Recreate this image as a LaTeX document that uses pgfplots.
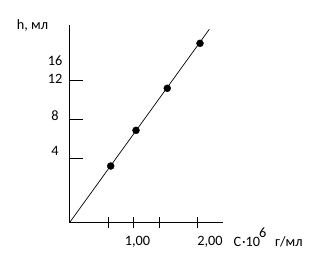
\documentclass[border=0pt]{standalone}
\usepackage{fontspec}
\setmainfont{Carlito}
\usepackage{pgfplots}
\pgfplotsset{compat=1.18}
\begin{document}
\begin{tikzpicture}
\useasboundingbox (0pt,0pt) rectangle (311pt,254pt);
\begin{axis}[
  at={(69.5pt,31.3pt)}, anchor=south west,
  scale only axis, width=153.8pt, height=197.7pt,
  xmin=0, xmax=2.396, ymin=-2.6, ymax=17.67,
  axis lines=left, axis line style={-, line width=1pt, black},
  every tick label/.append style={font=\fontsize{14.3}{16}\selectfont, text=black},
  major tick length=0pt,
  xtick={1.059,2.188}, xticklabels={{1,00},{2,00}},
  ytick={4.77,8.39,12.16,13.98}, yticklabels={4,8,12,16},
  xticklabel style={anchor=center, yshift=-19.5pt},
  yticklabel style={anchor=center, xshift=-14.5pt},
  extra x ticks={0.6,1,1.4,2}, extra x tick labels={},
  extra x tick style={tick align=center, major tick length=11pt, tick style={line width=1pt, black}},
  extra y ticks={4,8,12}, extra y tick labels={},
  extra y tick style={tick align=inside, major tick length=13pt, tick style={line width=1pt, black}},
  clip=false,
]
\addplot[black, line width=0.7pt] coordinates {(0,-2.6) (2.178,17.23)};
\addplot[only marks, mark=*, mark size=3.5pt, black] coordinates {
  (0.642,3.21) (1.036,6.87) (1.523,11.18) (2.033,15.79)};
\end{axis}
\node[anchor=base west, inner sep=0pt, font=\fontsize{14.3}{16}\selectfont] at (16.7pt,224.5pt) {h, мл};
\node[anchor=base west, inner sep=0pt, font=\fontsize{14.3}{16}\selectfont] at (233.3pt,7.5pt) {С\kern1pt·10\kern-1pt\raisebox{9pt}{6}};
\node[anchor=base west, inner sep=0pt, font=\fontsize{14.3}{16}\selectfont] at (275pt,7.5pt) {г/мл};
\end{tikzpicture}
\end{document}
